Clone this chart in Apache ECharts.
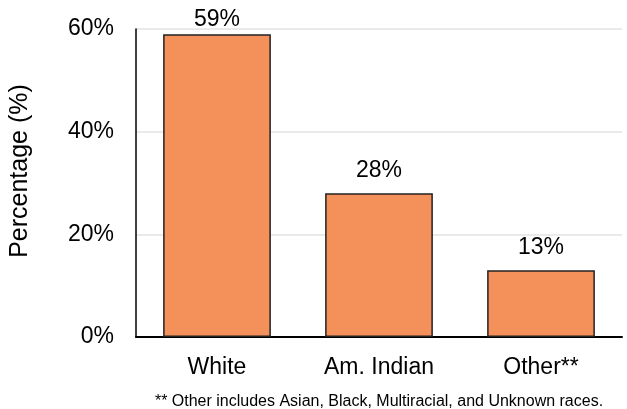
<!DOCTYPE html>
<html><head><meta charset="utf-8">
<script src="https://cdn.jsdelivr.net/npm/echarts@6/dist/echarts.min.js"></script>
<style>html,body{margin:0;padding:0;background:#fff}#c{width:627px;height:409px}</style>
</head><body><div id="c"></div>
<script>
const categories = ["White", "Am. Indian", "Other**"];
const values = [59, 28, 13];
const yTicks = [0, 20, 40, 60];
const yTitle = "Percentage (%)";
const footnote = "** Other includes Asian, Black, Multiracial, and Unknown races.";

const font = "Liberation Sans, Arial, sans-serif";
const chart = echarts.init(document.getElementById('c'));
chart.setOption({
  animation: false,
  grid: {left: 136, right: 5, top: 29, bottom: 72},
  title: {
    text: footnote, left: 374, textAlign: 'center', top: 389,
    textStyle: {fontSize: 16, fontWeight: 'normal', color: '#000', fontFamily: font}
  },
  graphic: [{
    type: 'text', x: 20, y: 171, rotation: Math.PI / 2,
    style: {text: yTitle, fill: '#000', fontSize: 25, fontFamily: font, align: 'center', verticalAlign: 'middle'}
  }],
  xAxis: {
    type: 'category', data: categories,
    axisLine: {lineStyle: {color: '#000', width: 2}},
    axisTick: {show: false},
    axisLabel: {color: '#000', fontSize: 23, fontFamily: font, margin: 19}
  },
  yAxis: {
    type: 'value', min: yTicks[0], max: yTicks[yTicks.length - 1], interval: 20,
    axisLine: {show: true, lineStyle: {color: '#000', width: 1.5}},
    axisTick: {show: false},
    axisLabel: {color: '#000', fontSize: 23, fontFamily: font, margin: 22, formatter: '{value}%'},
    splitLine: {lineStyle: {color: '#e3e3e3', width: 1.5}}
  },
  series: [{
    type: 'bar',
    data: values.map((v, i) => ({value: v, label: {distance: i === 0 ? 3 : 11}})),
    barCategoryGap: '33.5%',
    itemStyle: {color: '#F4915A', borderColor: '#222', borderWidth: 1.5},
    label: {show: true, position: 'top', color: '#000', fontSize: 23, fontFamily: font, formatter: '{c}%'}
  }]
});
</script></body></html>
